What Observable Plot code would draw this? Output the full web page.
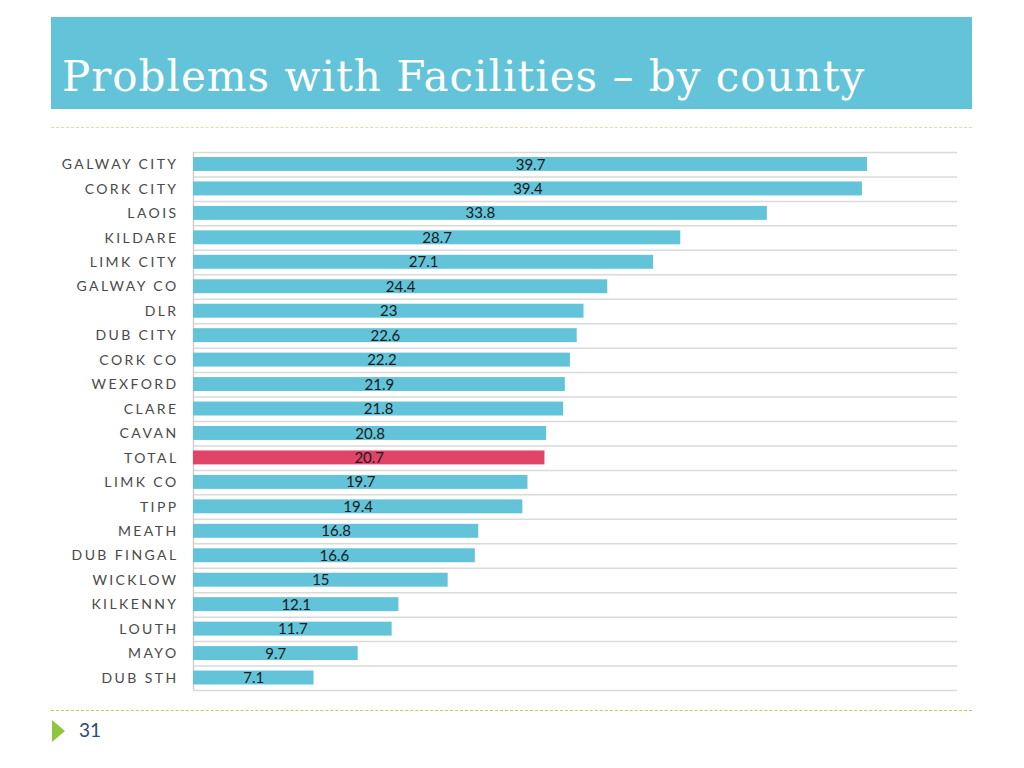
<!DOCTYPE html>
<html>
<head>
<meta charset="utf-8">
<script src="https://cdn.jsdelivr.net/npm/d3@7"></script>
<script src="https://cdn.jsdelivr.net/npm/@observablehq/plot@0.6"></script>
<style>
  html, body { margin: 0; padding: 0; background: #fff; }
  #slide { position: relative; width: 1024px; height: 768px; overflow: hidden; }
  #banner { position: absolute; left: 51px; top: 17px; width: 921px; height: 92px; background: #62c3d9; }
  #title { position: absolute; left: 11px; top: 36px; font-family: "DejaVu Serif", serif; font-size: 42px; letter-spacing: 1px; line-height: 48px; color: #fff; white-space: nowrap; margin: 0; font-weight: normal; }
  .dash { position: absolute; left: 51px; width: 921px; height: 0; }
  #dashTop { top: 127px; border-top: 1.5px dashed #e2dca8; }
  #dashBottom { top: 710px; border-top: 1.5px dashed #b0d262; }
  #chart { position: absolute; left: 0; top: 140px; }
  #tri { position: absolute; left: 52px; top: 720px; width: 0; height: 0; border-top: 11px solid transparent; border-bottom: 11px solid transparent; border-left: 13px solid #8dc63f; }
  #page { position: absolute; left: 79px; top: 718px; font-family: Lato, sans-serif; font-size: 19px; color: #2b4a78; }
</style>
</head>
<body>
<div id="slide">
  <div id="banner"><h1 id="title">Problems with Facilities – by county</h1></div>
  <div id="dashTop" class="dash"></div>
  <div id="chart"></div>
  <div id="dashBottom" class="dash"></div>
  <div id="tri"></div>
  <div id="page">31</div>
</div>
<script>
const counties = ["GALWAY CITY","CORK CITY","LAOIS","KILDARE","LIMK CITY","GALWAY CO","DLR","DUB CITY","CORK CO","WEXFORD","CLARE","CAVAN","TOTAL","LIMK CO","TIPP","MEATH","DUB FINGAL","WICKLOW","KILKENNY","LOUTH","MAYO","DUB STH"];
const values = [39.7,39.4,33.8,28.7,27.1,24.4,23,22.6,22.2,21.9,21.8,20.8,20.7,19.7,19.4,16.8,16.6,15,12.1,11.7,9.7,7.1];
const highlight = "TOTAL";

const data = counties.map((c, i) => ({county: c, value: values[i]}));

const width = 1024, height = 560, marginTop = 12, marginBottom = 10;
const step = (height - marginTop - marginBottom) / counties.length;

const chart = Plot.plot({
  width, height,
  marginLeft: 193, marginRight: 67, marginTop, marginBottom,
  x: {domain: [0, 45], axis: null},
  y: {domain: counties, padding: 0, round: false, label: null, tickSize: 0, tickPadding: 15},
  style: {fontFamily: "Lato, sans-serif", background: "transparent"},
  marks: [
    Plot.ruleY(counties, {y: d => d, dy: -step / 2, stroke: "#dadada", strokeWidth: 1.5}),
    Plot.ruleY([counties[counties.length - 1]], {y: d => d, dy: step / 2, stroke: "#dadada", strokeWidth: 1.5}),
    Plot.ruleX([0], {stroke: "#d0d0d0", strokeWidth: 1.5}),
    Plot.barX(data, {
      x: "value", y: "county",
      fill: d => d.county === highlight ? "#e04468" : "#62c3d9",
      insetTop: 5, insetBottom: 5.5
    }),
    Plot.text(data, {
      x: d => d.value / 2, y: "county", text: d => String(d.value),
      fill: "#1a1a1a", fontSize: 15
    })
  ]
});

const yAxis = chart.querySelector('[aria-label="y-axis tick label"]');
if (yAxis) {
  yAxis.setAttribute("font-size", "14");
  yAxis.setAttribute("fill", "#4a4a4a");
  yAxis.setAttribute("letter-spacing", "2.4");
}

document.getElementById("chart").appendChild(chart);
</script>
</body>
</html>
